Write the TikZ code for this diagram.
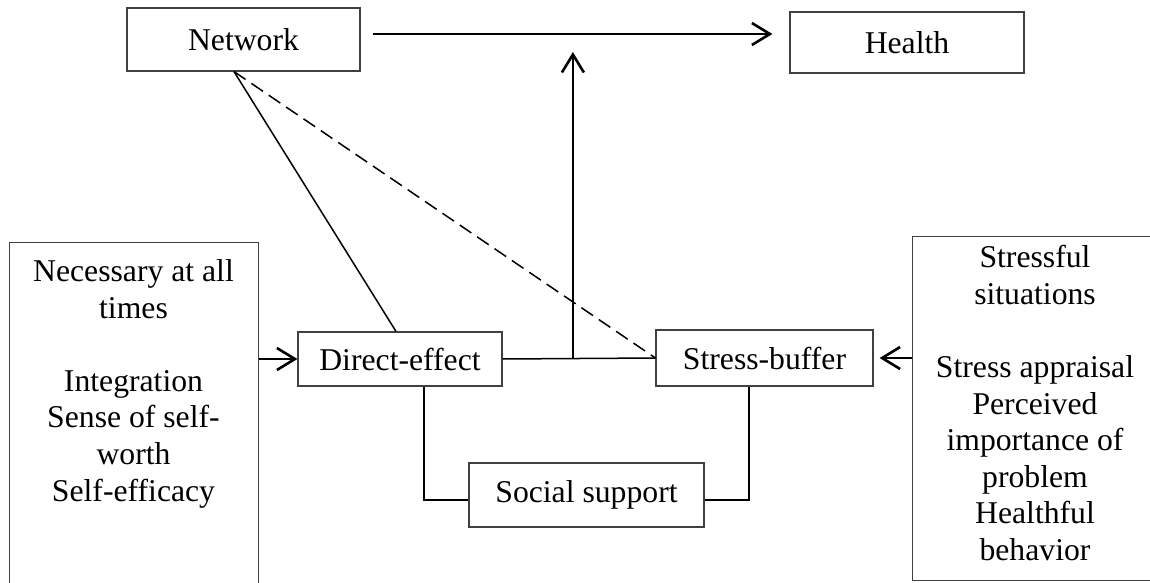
\documentclass[tikz,border=0pt]{standalone}
\usepackage{fontspec}
\setmainfont{Liberation Serif}
\usepackage{tikz}
\usetikzlibrary{positioning, arrows.meta, calc}

\begin{document}
\begin{tikzpicture}[x=0.5pt, y=-0.5pt, >={Straight Barb[length=9pt, width=11pt]},
    font=\fontsize{15.85}{18.3}\selectfont,
    box/.style={draw=black!75, line width=0.6pt, inner sep=0pt, align=center},
    txt/.style={inner sep=0pt, align=center},
    link/.style={line width=0.75pt},
    arr/.style={->, line width=1.3pt}]
    \useasboundingbox (0,0) rectangle (1150,583);

    % Top row: network and health
    \node[box, minimum width=116.5pt, minimum height=31.5pt] (network) at (243.5,39.5) {Network};
    \node[box, minimum width=117pt, minimum height=30.5pt] (health) at (907,42.5) {Health};

    % Middle row: the two effects
    \node[box, minimum width=102pt, minimum height=27pt] (direct) at (400,359) {Direct-effect};
    \node[box, minimum width=108.5pt, minimum height=28pt] (buffer) at (764.5,358) {Stress-buffer};
    \node[box, minimum width=117.5pt, minimum height=32pt] (social) at (586.5,495) {Social support};

    % Side boxes (cut off at the bottom and right)
    \node[box, anchor=north west, minimum width=124.5pt, minimum height=200pt] (needs) at (9,242) {};
    \node[txt, anchor=north] (needstext) at (133.5,259)
        {Necessary at all\\times\\[18.3pt]Integration\\Sense of self-\\worth\\Self-efficacy};
    \node[box, anchor=north west, minimum width=123pt, minimum height=172pt] (stressors) at (912,236) {};
    \node[txt, anchor=north] (stressorstext) at (1035,245)
        {Stressful\\situations\\[18.3pt]Stress appraisal\\Perceived\\importance of\\problem\\Healthful\\behavior};

    % Connectors
    \draw[arr] ($(network.east)+(12,-5.5)$) -- ($(health.west)+(-17,-8.5)$);
    \draw[link] ($(network.south)+(-9.5,0)$) -- ($(direct.north)+(-4,0)$);
    \draw[link, dash pattern=on 7pt off 3.5pt] ($(network.south)+(-9.5,0)$) -- (buffer.west);
    \draw[link] (direct.east) -- (buffer.west);
    \coordinate (join) at ($(direct.east)!0.46!(buffer.west)$);
    \draw[arr] (join) -- ($(join |- health.west)+(0,9.5)$);
    \draw[arr] (needs.east |- direct.west) -- (direct.west);
    \draw[arr] (stressors.west |- buffer.east) -- ($(buffer.east)+(6,0)$);
    \draw[link] ($(direct.south)+(24,0)$) |- ($(social.west)+(0,5)$);
    \draw[link] ($(social.east)+(0,5)$) -| ($(buffer.south)+(-15.5,0)$);
\end{tikzpicture}
\end{document}
